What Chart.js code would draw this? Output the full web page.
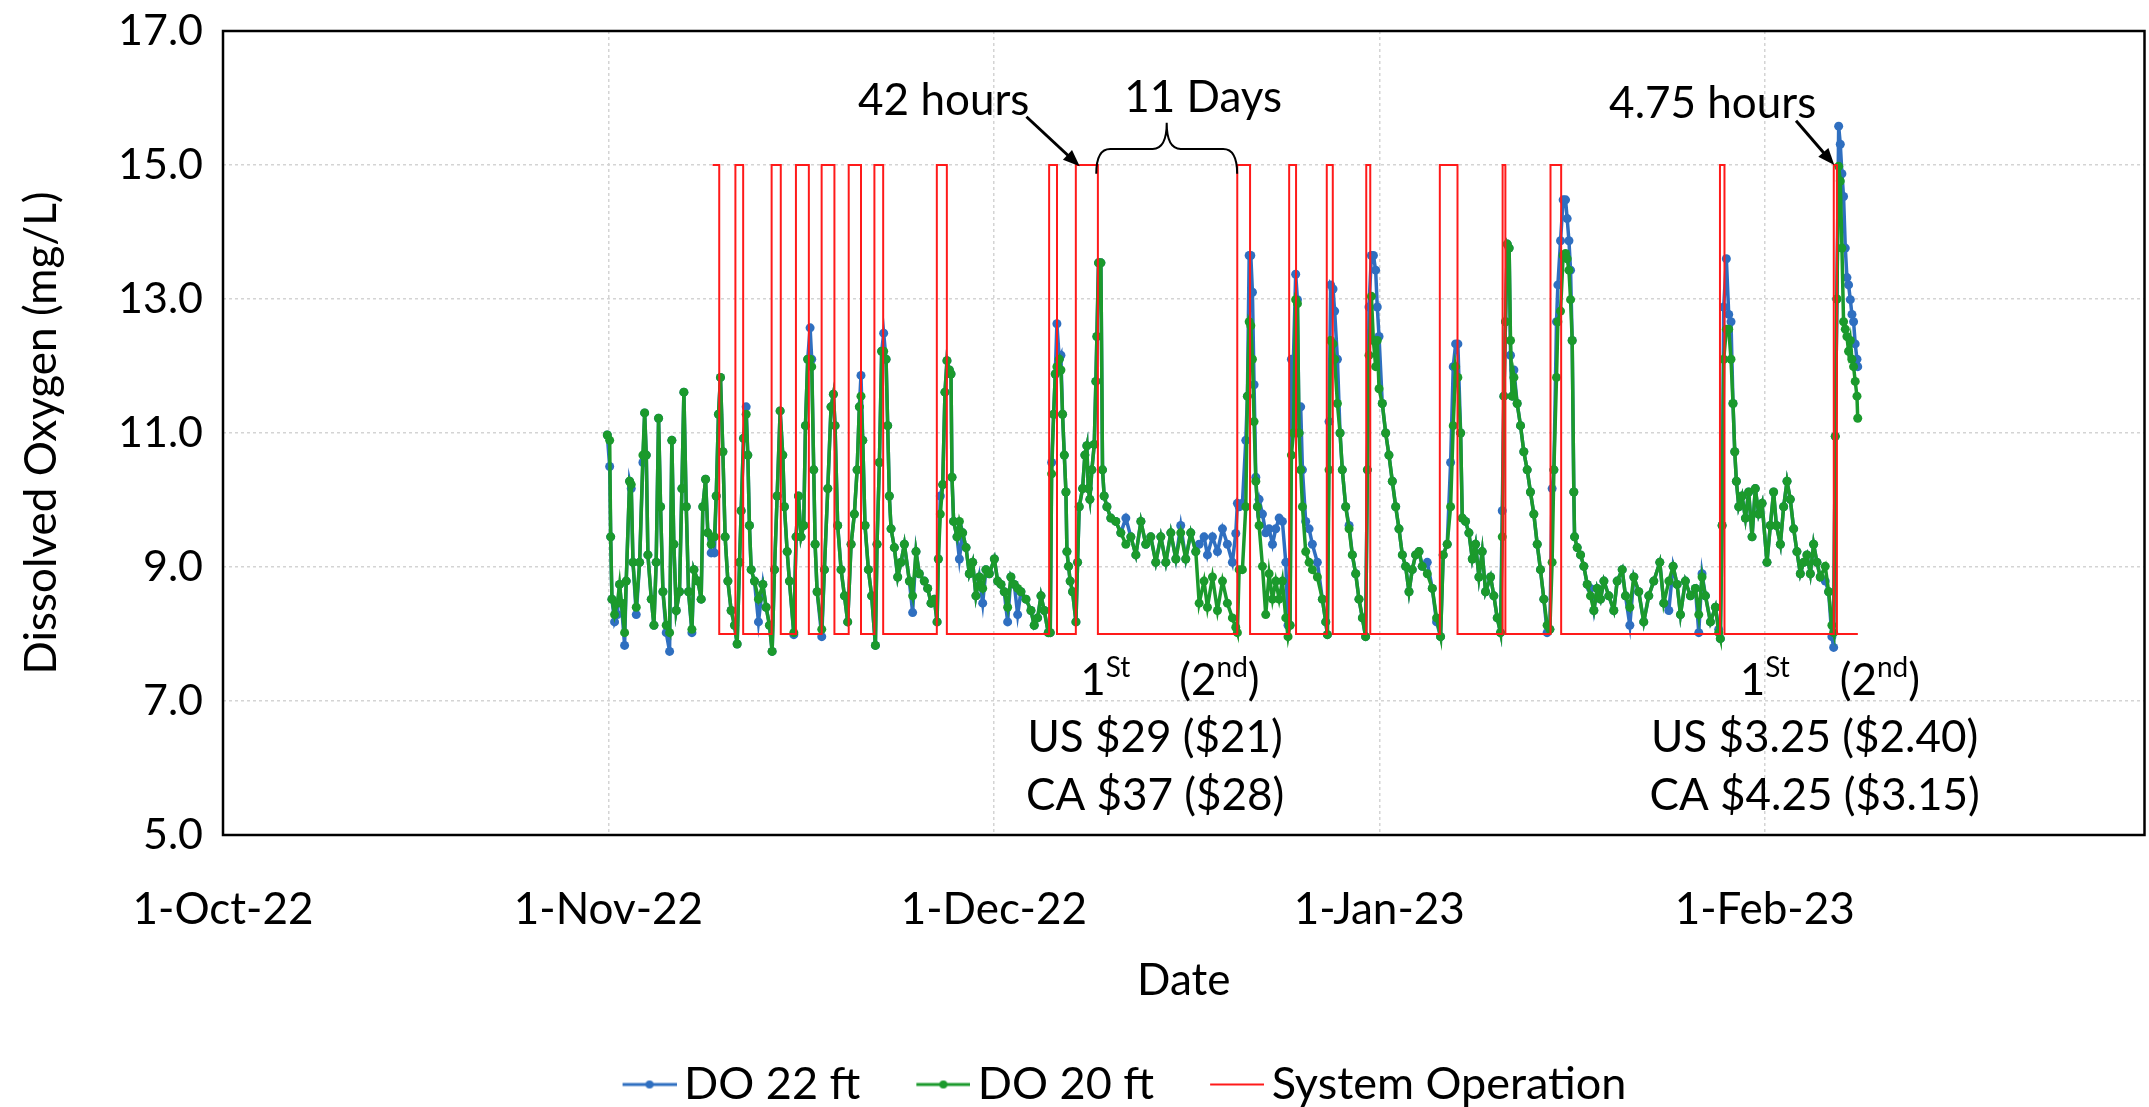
<!DOCTYPE html>
<html>
<head>
<meta charset="utf-8">
<title>Dissolved oxygen and system operation</title>
<script src="https://cdn.jsdelivr.net/npm/chart.js@4.4.1/dist/chart.umd.min.js"></script>
<style>
  html, body { margin: 0; padding: 0; background: #fff; }
  #doChart { display: block; }
</style>
</head>
<body>
<canvas id="doChart" width="2149" height="1107"></canvas>
<script>
// x values are days after 1-Oct-22 (axis ticks are spaced evenly, one per month)
const tickDays = [0, 30.75, 61.5, 92.25, 123];
const tickLabels = ['1-Oct-22', '1-Nov-22', '1-Dec-22', '1-Jan-23', '1-Feb-23'];

const days = [
  30.66, 30.85, 30.93, 31.03, 31.24, 31.46, 31.64, 31.78, 32.04, 32.17,
  32.44, 32.57, 32.71, 32.97, 33.24, 33.50, 33.64, 33.77, 33.90, 34.17,
  34.38, 34.56, 34.75, 34.91, 35.10, 35.36, 35.63, 35.81, 35.97, 36.16,
  36.42, 36.61, 36.77, 36.96, 37.14, 37.41, 37.57, 37.89, 38.15, 38.28,
  38.50, 38.68, 38.95, 39.21, 39.35, 39.53, 39.69, 39.88, 40.06, 40.28,
  40.54, 40.81, 41.02, 41.21, 41.34, 41.53, 41.74, 41.87, 42.00, 42.14,
  42.40, 42.72, 43.07, 43.33, 43.60, 43.81, 44.00, 44.21, 44.45, 44.66,
  44.79, 45.01, 45.19, 45.54, 45.72, 45.91, 46.12, 46.33, 46.47, 46.65,
  46.84, 46.97, 47.13, 47.24, 47.40, 47.77, 47.98, 48.25, 48.51, 48.70,
  48.83, 49.04, 49.31, 49.58, 49.84, 50.11, 50.37, 50.59, 50.77, 50.90,
  51.04, 51.22, 51.49, 51.75, 52.05, 52.18, 52.37, 52.55, 52.71, 52.90,
  53.03, 53.16, 53.30, 53.56, 53.83, 54.09, 54.36, 54.76, 55.02, 55.29,
  55.55, 55.95,
  56.22, 56.49, 56.75, 56.97, 57.07, 57.23, 57.42, 57.60, 57.76, 57.95,
  58.08, 58.16, 58.29, 58.56, 58.75, 59.01, 59.28, 59.54, 59.81, 60.07,
  60.34, 60.61, 60.87, 61.14, 61.54, 61.80, 62.07, 62.33, 62.60, 62.86,
  63.13, 63.40, 63.66, 64.06, 64.46, 64.72, 64.99, 65.26, 65.52, 65.84,
  66.00, 66.11, 66.27, 66.40, 66.53, 66.72, 66.85, 66.98, 67.12, 67.25,
  67.33, 67.46, 67.59, 67.78, 68.05, 68.18, 68.31, 68.58, 68.76, 68.92,
  69.03, 69.16, 69.32, 69.51, 69.64, 69.72, 69.85, 70.04, 70.17, 70.30,
  70.52, 70.83, 71.23, 71.63, 72.03, 72.43, 72.83, 73.23, 73.62, 74.02,
  74.42, 74.82, 75.22, 75.62, 76.02, 76.41, 76.81, 77.21, 77.61, 77.88,
  78.27, 78.54, 78.94, 79.34, 79.74, 80.13, 80.53, 80.80, 80.93,
  81.07, 81.33, 81.60, 81.73, 81.87, 82.00, 82.13, 82.26, 82.40, 82.53,
  82.66, 82.93, 83.19, 83.46, 83.73, 83.99, 84.26, 84.52, 84.79, 84.97,
  85.13, 85.24, 85.40, 85.58, 85.72, 85.85, 85.98, 86.12, 86.38, 86.65,
  86.91, 87.31, 87.71, 87.98, 88.11, 88.24, 88.37, 88.56, 88.69, 88.91,
  89.12, 89.30, 89.57, 89.84, 90.10, 90.37, 90.63, 90.90, 91.16, 91.30,
  91.43, 91.62, 91.78, 91.96, 92.09, 92.23, 92.49, 92.76, 93.02, 93.29,
  93.56, 93.82, 94.09, 94.35, 94.62, 94.88, 95.15, 95.42, 95.68, 96.08,
  96.48, 96.82, 97.14, 97.35, 97.67, 97.94, 98.15, 98.34, 98.52, 98.74,
  98.87, 99.13, 99.40, 99.67, 99.93, 100.20, 100.46, 100.73, 101.13, 101.39,
  101.66, 101.92, 102.06, 102.19, 102.32, 102.46, 102.61, 102.72, 102.85, 102.99,
  103.25, 103.52, 103.78, 104.05, 104.31, 104.58, 104.85, 105.11, 105.38, 105.64,
  105.86, 106.04, 106.18,
  106.39, 106.50, 106.71, 106.92, 107.11, 107.24, 107.38, 107.51, 107.64, 107.77,
  107.83, 108.04, 108.31, 108.57, 108.84, 109.10, 109.37, 109.63, 109.90, 110.17,
  110.56, 110.96, 111.23, 111.63, 111.89, 112.24, 112.56, 112.95, 113.35, 113.75,
  114.15, 114.63, 114.95, 115.35, 115.69, 116.01, 116.28, 116.67, 117.07, 117.47,
  117.74, 118.00, 118.27, 118.67, 119.07, 119.33, 119.46, 119.60, 119.73, 119.94,
  120.13, 120.31, 120.47, 120.61, 120.74, 120.93, 121.19, 121.46, 121.72, 121.99,
  122.25, 122.52, 122.79, 123.18, 123.45, 123.71, 123.93, 124.25, 124.51, 124.78,
  125.04, 125.31, 125.57, 125.84, 126.11, 126.37, 126.64, 126.90, 127.17, 127.43,
  127.83, 128.10, 128.36, 128.50, 128.63, 128.76, 128.90, 129.03, 129.16, 129.29,
  129.43, 129.56, 129.69, 129.83, 129.96, 130.09, 130.22, 130.36, 130.42
];

// DO 22 ft (mg/L)
const do22ft = [
  10.97, 10.50, 9.45, 8.52, 8.18, 8.29, 8.74, 8.46, 7.83, 8.79,
  10.28, 10.17, 9.07, 8.29, 9.07, 10.56, 11.30, 10.67, 9.18, 8.52,
  8.13, 9.07, 11.22, 9.90, 8.63, 8.02, 7.74, 10.89, 9.34, 8.35,
  8.63, 10.17, 11.61, 9.90, 8.63, 8.02, 8.96, 8.79, 8.52, 9.90,
  10.31, 9.51, 9.21, 9.21, 10.06, 11.28, 11.83, 10.72, 9.45, 8.79,
  8.35, 8.13, 7.85, 9.07, 9.84, 10.92, 11.39, 10.67, 9.62, 8.96,
  8.79, 8.18, 8.74, 8.40, 8.13, 7.74, 8.96, 10.06, 11.33, 10.67,
  9.90, 9.23, 8.79, 7.99, 9.45, 10.06, 9.45, 9.62, 11.11, 12.10,
  12.57, 12.10, 10.45, 9.34, 8.63, 7.96, 8.96, 10.17, 11.39, 11.58,
  11.11, 9.62, 8.96, 8.57, 8.18, 9.34, 9.79, 10.45, 11.39, 11.86,
  10.89, 9.62, 8.96, 8.57, 7.83, 9.34, 10.56, 12.22, 12.49, 12.10,
  11.11, 10.06, 9.57, 9.29, 8.85, 9.07, 9.34, 8.79, 8.32, 9.23,
  8.90, 8.79,
  8.68, 8.46, 8.52, 8.18, 9.12, 10.06, 10.23, 11.61, 12.08, 11.94,
  11.88, 10.34, 9.68, 9.45, 9.12, 9.51, 9.29, 8.90, 9.07, 8.57,
  8.85, 8.46, 8.96, 8.90, 9.12, 8.79, 8.74, 8.63, 8.18, 8.85,
  8.74, 8.29, 8.63, 8.52, 8.35, 8.13, 8.24, 8.57, 8.35, 8.02,
  8.02, 10.56, 11.28, 11.88, 12.63, 12.10, 12.16, 11.28, 10.67, 10.12,
  9.23, 9.01, 8.79, 8.63, 8.18, 9.07, 9.90, 10.17, 10.67, 10.81,
  10.17, 10.01, 10.45, 10.83, 11.77, 12.44, 13.54, 13.54, 10.45, 10.06,
  9.90, 9.73, 9.68, 9.51, 9.73, 9.45, 9.18, 9.68, 9.34, 9.45,
  9.07, 9.45, 9.07, 9.51, 9.12, 9.62, 9.12, 9.51, 9.23, 9.34,
  9.45, 9.18, 9.45, 9.23, 9.57, 9.34, 9.07, 9.50, 9.95,
  9.90, 9.95, 10.89, 11.55, 13.65, 13.65, 13.10, 11.72, 10.34, 9.90,
  10.01, 9.79, 9.51, 9.57, 9.34, 9.57, 9.73, 9.68, 9.07, 8.13,
  8.13, 12.10, 12.10, 13.37, 12.99, 11.00, 11.39, 10.45, 9.68, 9.57,
  9.34, 9.07, 8.52, 8.18, 7.99, 11.17, 13.21, 13.15, 12.82, 12.10,
  11.00, 10.45, 9.90, 9.62, 9.18, 8.90, 8.52, 8.24, 7.96, 10.45,
  12.88, 13.65, 13.65, 13.43, 12.88, 12.44, 11.44, 11.00, 10.67, 10.28,
  9.90, 9.57, 9.18, 9.01, 8.63, 8.96, 9.18, 9.23, 9.01, 9.07,
  8.68, 8.18, 7.96, 9.18, 9.34, 10.56, 11.99, 12.33, 12.33, 11.00,
  9.73, 9.68, 9.51, 9.12, 9.34, 8.85, 9.23, 8.63, 8.85, 8.57,
  8.24, 8.02, 9.84, 11.55, 12.66, 13.82, 13.76, 12.16, 11.55, 11.94,
  11.44, 11.11, 10.72, 10.45, 10.12, 9.79, 9.34, 8.96, 8.52, 8.02,
  8.07, 10.17, 10.45,
  12.66, 13.21, 13.87, 14.48, 14.48, 14.20, 13.87, 13.43, 12.38, 10.12,
  9.45, 9.29, 9.18, 9.01, 8.74, 8.68, 8.35, 8.68, 8.52, 8.79,
  8.57, 8.35, 8.79, 8.96, 8.57, 8.13, 8.85, 8.63, 8.18, 8.57,
  8.79, 9.07, 8.46, 8.35, 9.01, 8.74, 8.29, 8.79, 8.57, 8.68,
  8.02, 8.90, 8.57, 8.18, 8.40, 8.07, 7.93, 9.62, 12.88, 13.60,
  12.77, 12.66, 11.44, 10.72, 10.28, 9.90, 10.06, 9.73, 10.12, 9.45,
  10.17, 9.79, 9.95, 9.07, 9.62, 10.12, 9.62, 9.34, 9.90, 10.28,
  10.01, 9.57, 9.23, 8.90, 9.07, 9.18, 8.90, 9.34, 9.07, 8.85,
  8.79, 8.63, 7.96, 7.80, 10.95, 13.00, 15.58, 15.31, 14.87, 14.53,
  13.76, 13.32, 13.21, 12.99, 12.77, 12.66, 12.33, 12.10, 11.99
];

// DO 20 ft (mg/L)
const do20ft = [
  10.97, 10.89, 9.45, 8.52, 8.29, 8.46, 8.74, 8.46, 8.02, 8.79,
  10.28, 10.23, 9.07, 8.40, 9.07, 10.67, 11.30, 10.67, 9.18, 8.52,
  8.13, 9.07, 11.22, 9.90, 8.63, 8.13, 8.02, 10.89, 9.34, 8.35,
  8.63, 10.17, 11.61, 9.90, 8.63, 8.07, 8.96, 8.79, 8.52, 9.90,
  10.31, 9.51, 9.34, 9.45, 10.06, 11.28, 11.83, 10.72, 9.45, 8.79,
  8.35, 8.13, 7.85, 9.07, 9.84, 10.92, 11.28, 10.67, 9.62, 8.96,
  8.79, 8.52, 8.74, 8.40, 8.13, 7.74, 8.96, 10.06, 11.33, 10.67,
  9.90, 9.23, 8.79, 8.02, 9.45, 10.06, 9.45, 9.62, 11.11, 12.10,
  12.10, 11.99, 10.45, 9.34, 8.63, 8.07, 8.96, 10.17, 11.39, 11.58,
  11.11, 9.62, 8.96, 8.57, 8.18, 9.34, 9.79, 10.45, 11.39, 11.55,
  10.89, 9.62, 8.96, 8.57, 7.83, 9.34, 10.56, 12.22, 12.22, 12.10,
  11.11, 10.06, 9.57, 9.29, 8.85, 9.07, 9.34, 8.79, 8.57, 9.23,
  8.90, 8.79,
  8.68, 8.46, 8.52, 8.18, 9.12, 9.79, 10.23, 11.61, 12.08, 11.94,
  11.88, 10.34, 9.68, 9.45, 9.68, 9.51, 9.29, 8.90, 9.07, 8.57,
  8.85, 8.68, 8.96, 8.90, 9.12, 8.79, 8.74, 8.63, 8.40, 8.85,
  8.74, 8.68, 8.63, 8.52, 8.35, 8.13, 8.24, 8.57, 8.35, 8.02,
  8.02, 10.39, 11.28, 11.88, 11.99, 12.10, 11.94, 11.28, 10.67, 10.12,
  9.23, 9.01, 8.79, 8.63, 8.18, 9.07, 9.90, 10.17, 10.67, 10.81,
  10.17, 10.01, 10.45, 10.83, 11.77, 12.44, 13.54, 13.54, 10.45, 10.06,
  9.90, 9.73, 9.68, 9.51, 9.34, 9.45, 9.18, 9.68, 9.34, 9.45,
  9.07, 9.45, 9.07, 9.51, 9.12, 9.51, 9.12, 9.51, 9.23, 8.46,
  8.79, 8.40, 8.85, 8.35, 8.79, 8.46, 8.24, 8.10, 8.02,
  8.96, 8.96, 9.90, 11.55, 12.66, 12.60, 12.10, 11.17, 10.28, 9.90,
  9.62, 9.01, 8.29, 8.90, 8.52, 8.79, 8.52, 8.79, 8.24, 7.96,
  8.13, 10.67, 11.00, 12.99, 12.93, 11.00, 10.45, 9.90, 9.23, 9.07,
  8.96, 8.85, 8.52, 8.18, 7.99, 10.45, 12.38, 12.33, 12.10, 11.44,
  11.00, 10.45, 9.90, 9.57, 9.18, 8.90, 8.52, 8.24, 7.96, 10.45,
  12.16, 13.04, 12.38, 11.99, 12.38, 11.66, 11.44, 11.00, 10.67, 10.28,
  9.90, 9.57, 9.18, 9.01, 8.63, 8.96, 9.18, 9.23, 9.01, 8.90,
  8.68, 8.24, 7.96, 9.18, 9.34, 9.90, 11.11, 11.99, 11.83, 11.00,
  9.73, 9.68, 9.51, 9.12, 9.34, 8.85, 9.23, 8.63, 8.85, 8.57,
  8.24, 8.02, 9.45, 11.55, 12.66, 13.82, 13.76, 12.38, 11.55, 11.83,
  11.44, 11.11, 10.72, 10.45, 10.12, 9.79, 9.34, 8.96, 8.52, 8.13,
  8.07, 9.07, 10.45,
  11.83, 12.66, 12.82, 13.65, 13.68, 13.60, 13.43, 12.99, 12.38, 10.12,
  9.45, 9.29, 9.18, 9.01, 8.74, 8.57, 8.35, 8.68, 8.52, 8.79,
  8.57, 8.35, 8.79, 8.96, 8.57, 8.40, 8.85, 8.63, 8.18, 8.57,
  8.79, 9.07, 8.46, 8.79, 9.01, 8.74, 8.29, 8.79, 8.57, 8.68,
  8.29, 8.85, 8.57, 8.18, 8.40, 8.02, 7.93, 9.62, 12.10, 12.55,
  12.55, 12.10, 11.44, 10.72, 10.28, 9.90, 10.06, 9.73, 10.12, 9.45,
  10.17, 9.79, 9.95, 9.07, 9.62, 10.12, 9.62, 9.34, 9.90, 10.28,
  10.01, 9.57, 9.23, 8.90, 9.07, 9.18, 8.90, 9.34, 9.07, 8.85,
  9.01, 8.63, 8.13, 8.02, 10.95, 13.00, 14.98, 14.76, 13.76, 12.66,
  12.55, 12.44, 12.22, 12.38, 12.10, 11.99, 11.77, 11.55, 11.22
];

// system operation: level switches to the given value at each day
const opDays = [
  39.06, 39.59, 40.88, 41.50, 43.77, 44.50, 45.71, 46.74, 47.76, 48.78,
  49.92, 50.90, 51.97, 52.67, 56.95, 57.75, 65.91, 66.54, 68.04, 69.80,
  80.92, 81.94, 85.06, 85.61, 88.06, 88.54, 91.21, 91.53, 97.08, 98.49,
  102.09, 102.31, 105.91, 106.76, 119.43, 119.79, 128.51, 128.76, 130.43
];
const opLevels = [
  15, 8, 15, 8, 15, 8, 15, 8, 15, 8,
  15, 8, 15, 8, 15, 8, 15, 8, 15, 8,
  15, 8, 15, 8, 15, 8, 15, 8, 15, 8,
  15, 8, 15, 8, 15, 8, 15, 8, 8
];

const FONT = 'Lato, "Open Sans", sans-serif';
const BLUE = '#2f6fc0';
const GREEN = '#1b9a2c';
const RED = '#ff1a1a';
const PLOT_LEFT = 223;
const PLOT_BOTTOM = 835;
const PAD_LEFT = 88;     // nudges the centred legend to the right
const PAD_BOTTOM = -10;

Chart.defaults.font.family = FONT;
Chart.defaults.font.size = 44;
Chart.defaults.color = '#000';

function legendIcon(color, dot, width) {
  const c = document.createElement('canvas');
  c.width = 84;
  c.height = 12;
  const g = c.getContext('2d');
  g.strokeStyle = color;
  g.lineWidth = width;
  g.beginPath();
  g.moveTo(30, 6);
  g.lineTo(84, 6);
  g.stroke();
  if (dot) {
    g.fillStyle = color;
    g.beginPath();
    g.arc(57, 6, 4, 0, Math.PI * 2);
    g.fill();
  }
  return c;
}
const icons = [legendIcon(BLUE, true, 3), legendIcon(GREEN, true, 3), legendIcon(RED, false, 2)];

function arrow(ctx, x0, y0, x1, y1) {
  const a = Math.atan2(y1 - y0, x1 - x0);
  const head = 18;
  ctx.beginPath();
  ctx.moveTo(x0, y0);
  ctx.lineTo(x1 - Math.cos(a) * head * 0.7, y1 - Math.sin(a) * head * 0.7);
  ctx.stroke();
  ctx.beginPath();
  ctx.moveTo(x1, y1);
  ctx.lineTo(x1 - head * Math.cos(a - 0.38), y1 - head * Math.sin(a - 0.38));
  ctx.lineTo(x1 - head * Math.cos(a + 0.38), y1 - head * Math.sin(a + 0.38));
  ctx.closePath();
  ctx.fill();
}

function brace(ctx, xa, xb, xm, yEnd, yTop, yPeak) {
  const r = 14;
  ctx.beginPath();
  ctx.moveTo(xa, yEnd);
  ctx.quadraticCurveTo(xa, yTop, xa + r, yTop);
  ctx.lineTo(xm - r, yTop);
  ctx.quadraticCurveTo(xm, yTop, xm, yPeak);
  ctx.quadraticCurveTo(xm, yTop, xm + r, yTop);
  ctx.lineTo(xb - r, yTop);
  ctx.quadraticCurveTo(xb, yTop, xb, yEnd);
  ctx.stroke();
}

// text with superscripts, left aligned at x
function supText(ctx, parts, x, baseline) {
  ctx.textAlign = 'left';
  parts.forEach(([t, sup]) => {
    ctx.font = (sup ? '28px ' : '44px ') + FONT;
    ctx.fillText(t, x, sup ? baseline - 18 : baseline);
    x += ctx.measureText(t).width;
  });
}

const notes = {
  id: 'notes',
  afterDraw(chart) {
    const { ctx, chartArea: a, scales: { x, y } } = chart;
    const px = v => x.getPixelForValue(v);
    const py = v => y.getPixelForValue(v);
    ctx.save();
    ctx.strokeStyle = '#000';
    ctx.lineWidth = 2.5;
    ctx.strokeRect(a.left, a.top, a.right - a.left, a.bottom - a.top);

    ctx.fillStyle = '#000';
    ctx.font = '44px ' + FONT;
    ctx.textAlign = 'center';
    ctx.textBaseline = 'middle';
    ctx.fillText('42 hours', px(57.5), py(15.96));
    ctx.fillText('11 Days', px(78.2), py(16.0));
    ctx.fillText('4.75 hours', px(118.85), py(15.91));

    ctx.lineWidth = 3;
    arrow(ctx, px(64.1), py(15.72), px(68.35), py(14.98));
    arrow(ctx, px(125.5), py(15.66), px(128.55), py(15.0));
    ctx.lineWidth = 2;
    brace(ctx, px(69.67), px(80.91), px(75.29), py(14.87), py(15.24), py(15.63));

    ctx.textBaseline = 'alphabetic';
    supText(ctx, [['1', false], ['St', true]], px(68.39), py(7.09));
    supText(ctx, [['(2', false], ['nd', true], [')', false]], px(76.29), py(7.09));
    supText(ctx, [['1', false], ['St', true]], px(121.0), py(7.09));
    supText(ctx, [['(2', false], ['nd', true], [')', false]], px(128.98), py(7.09));

    ctx.font = '44px ' + FONT;
    ctx.textAlign = 'center';
    ctx.fillText('US $29 ($21)', px(74.37), py(6.24));
    ctx.fillText('CA $37 ($28)', px(74.37), py(5.37));
    ctx.fillText('US $3.25 ($2.40)', px(126.98), py(6.24));
    ctx.fillText('CA $4.25 ($3.15)', px(126.98), py(5.37));
    ctx.restore();
  }
};

const pts = vals => vals.map((v, i) => ({ x: days[i], y: v }));

new Chart(document.getElementById('doChart'), {
  type: 'line',
  data: {
    datasets: [
      {
        label: 'DO 22 ft',
        data: pts(do22ft),
        borderColor: BLUE,
        backgroundColor: BLUE,
        borderWidth: 3.5,
        pointRadius: 4.5,
        pointBorderWidth: 0,
        order: 3
      },
      {
        label: 'DO 20 ft',
        data: pts(do20ft),
        borderColor: GREEN,
        backgroundColor: GREEN,
        borderWidth: 3.5,
        pointRadius: 4.5,
        pointBorderWidth: 0,
        order: 2
      },
      {
        label: 'System Operation',
        data: opDays.map((d, i) => ({ x: d, y: opLevels[i] })),
        borderColor: RED,
        backgroundColor: RED,
        borderWidth: 2,
        pointRadius: 0,
        stepped: 'before',
        order: 1
      }
    ]
  },
  options: {
    responsive: false,
    animation: false,
    events: [],
    layout: { padding: { left: PAD_LEFT, right: 3, top: 31, bottom: PAD_BOTTOM } },
    plugins: {
      tooltip: { enabled: false },
      legend: {
        position: 'bottom',
        labels: {
          usePointStyle: true,
          pointStyleWidth: 54,
          boxHeight: 12,
          padding: 41,
          color: '#000',
          font: { size: 45 },
          sort: (a, b) => a.datasetIndex - b.datasetIndex,
          generateLabels: chart =>
            Chart.defaults.plugins.legend.labels.generateLabels(chart)
              .map(item => ({ ...item, pointStyle: icons[item.datasetIndex] }))
        }
      }
    },
    scales: {
      x: {
        type: 'linear',
        min: 0,
        max: 153.3,
        afterBuildTicks: s => { s.ticks = tickDays.map(v => ({ value: v })); },
        afterFit: s => { s.height = s.chart.height - PLOT_BOTTOM - s.chart.legend.height - PAD_BOTTOM; },
        ticks: {
          autoSkip: false,
          maxRotation: 0,
          padding: 48,
          color: '#000',
          callback: (v, i) => tickLabels[i]
        },
        grid: { color: '#d4d4d4', lineWidth: 1.5, drawTicks: false },
        border: { display: false, dash: [3, 3] },
        title: { display: true, text: 'Date', color: '#000', padding: { top: 0, bottom: 14 } }
      },
      y: {
        min: 5,
        max: 17,
        afterFit: s => { s.width = PLOT_LEFT - PAD_LEFT; },
        ticks: {
          stepSize: 2,
          padding: 20,
          color: '#000',
          font: { size: 43, lineHeight: 0.5 },
          callback: v => v.toFixed(1)
        },
        grid: { color: '#d4d4d4', lineWidth: 1.5, drawTicks: false },
        border: { display: false, dash: [3, 3] },
        title: {
          display: true,
          text: 'Dissolved Oxygen (mg/L)',
          color: '#000',
          padding: { top: 15 - PAD_LEFT, bottom: 0 }
        }
      }
    }
  },
  plugins: [notes]
});
</script>
</body>
</html>
